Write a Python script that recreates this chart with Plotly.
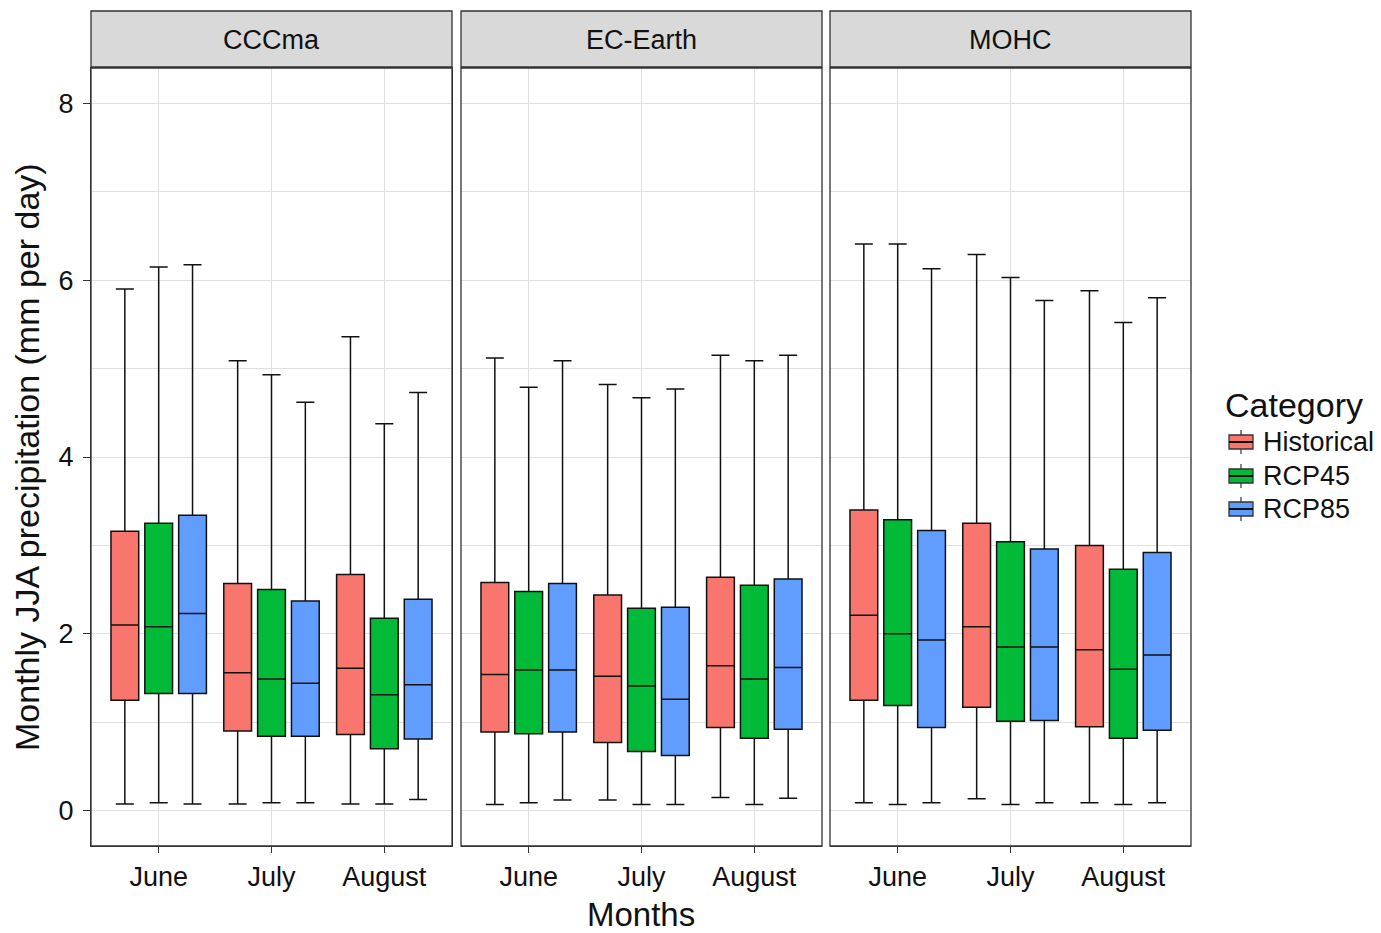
import plotly.graph_objects as go

months = ["June", "July", "August"]
models = ["CCCma", "EC-Earth", "MOHC"]
categories = ["Historical", "RCP45", "RCP85"]
colors = {"Historical": "#F8766D", "RCP45": "#00BA38", "RCP85": "#619CFF"}

# CCCma
cccma_hist_upper = [5.90, 5.09, 5.36]
cccma_hist_q3 = [3.16, 2.57, 2.67]
cccma_hist_med = [2.10, 1.56, 1.61]
cccma_hist_q1 = [1.25, 0.90, 0.86]
cccma_hist_lower = [0.075, 0.075, 0.075]

cccma_rcp45_upper = [6.15, 4.93, 4.375]
cccma_rcp45_q3 = [3.25, 2.50, 2.175]
cccma_rcp45_med = [2.08, 1.49, 1.31]
cccma_rcp45_q1 = [1.325, 0.84, 0.70]
cccma_rcp45_lower = [0.09, 0.09, 0.075]

cccma_rcp85_upper = [6.175, 4.62, 4.73]
cccma_rcp85_q3 = [3.34, 2.37, 2.39]
cccma_rcp85_med = [2.23, 1.44, 1.425]
cccma_rcp85_q1 = [1.325, 0.84, 0.81]
cccma_rcp85_lower = [0.075, 0.09, 0.125]

# EC-Earth
ec_hist_upper = [5.12, 4.82, 5.15]
ec_hist_q3 = [2.58, 2.44, 2.64]
ec_hist_med = [1.54, 1.52, 1.64]
ec_hist_q1 = [0.89, 0.77, 0.94]
ec_hist_lower = [0.07, 0.12, 0.15]

ec_rcp45_upper = [4.79, 4.67, 5.09]
ec_rcp45_q3 = [2.48, 2.29, 2.55]
ec_rcp45_med = [1.59, 1.41, 1.49]
ec_rcp45_q1 = [0.87, 0.67, 0.82]
ec_rcp45_lower = [0.09, 0.07, 0.07]

ec_rcp85_upper = [5.09, 4.77, 5.15]
ec_rcp85_q3 = [2.57, 2.30, 2.62]
ec_rcp85_med = [1.59, 1.26, 1.62]
ec_rcp85_q1 = [0.89, 0.625, 0.92]
ec_rcp85_lower = [0.12, 0.07, 0.14]

# MOHC
mohc_hist_upper = [6.41, 6.29, 5.88]
mohc_hist_q3 = [3.40, 3.25, 3.00]
mohc_hist_med = [2.21, 2.08, 1.82]
mohc_hist_q1 = [1.25, 1.17, 0.95]
mohc_hist_lower = [0.09, 0.135, 0.09]

mohc_rcp45_upper = [6.41, 6.03, 5.52]
mohc_rcp45_q3 = [3.29, 3.04, 2.73]
mohc_rcp45_med = [2.00, 1.85, 1.60]
mohc_rcp45_q1 = [1.19, 1.01, 0.82]
mohc_rcp45_lower = [0.07, 0.07, 0.07]

mohc_rcp85_upper = [6.13, 5.77, 5.80]
mohc_rcp85_q3 = [3.17, 2.96, 2.92]
mohc_rcp85_med = [1.93, 1.85, 1.76]
mohc_rcp85_q1 = [0.94, 1.02, 0.91]
mohc_rcp85_lower = [0.09, 0.09, 0.09]

stats = {
    "CCCma": {
        "Historical": (cccma_hist_lower, cccma_hist_q1, cccma_hist_med, cccma_hist_q3, cccma_hist_upper),
        "RCP45": (cccma_rcp45_lower, cccma_rcp45_q1, cccma_rcp45_med, cccma_rcp45_q3, cccma_rcp45_upper),
        "RCP85": (cccma_rcp85_lower, cccma_rcp85_q1, cccma_rcp85_med, cccma_rcp85_q3, cccma_rcp85_upper),
    },
    "EC-Earth": {
        "Historical": (ec_hist_lower, ec_hist_q1, ec_hist_med, ec_hist_q3, ec_hist_upper),
        "RCP45": (ec_rcp45_lower, ec_rcp45_q1, ec_rcp45_med, ec_rcp45_q3, ec_rcp45_upper),
        "RCP85": (ec_rcp85_lower, ec_rcp85_q1, ec_rcp85_med, ec_rcp85_q3, ec_rcp85_upper),
    },
    "MOHC": {
        "Historical": (mohc_hist_lower, mohc_hist_q1, mohc_hist_med, mohc_hist_q3, mohc_hist_upper),
        "RCP45": (mohc_rcp45_lower, mohc_rcp45_q1, mohc_rcp45_med, mohc_rcp45_q3, mohc_rcp45_upper),
        "RCP85": (mohc_rcp85_lower, mohc_rcp85_q1, mohc_rcp85_med, mohc_rcp85_q3, mohc_rcp85_upper),
    },
}

FONT = "Liberation Sans, Arial, sans-serif"
TXT = "#111111"
LBL = 27
TTL = 33

W, H = 1381, 933
ML, MR, MT, MB = 91, 190, 68, 87
pw = W - ML - MR
ph = H - MT - MB


def px_x(p):
    return (p - ML) / pw


def px_y(p):
    return (MT + ph - p) / ph


panel_px = [(91, 452), (461, 822), (830, 1191)]
domains = [[px_x(a), px_x(b)] for a, b in panel_px]

fig = go.Figure()

for i, model in enumerate(models):
    xa = "x" if i == 0 else f"x{i+1}"
    for cat in categories:
        lo, q1, med, q3, up = stats[model][cat]
        fig.add_trace(go.Box(
            x=months, q1=q1, median=med, q3=q3, lowerfence=lo, upperfence=up,
            name=cat, legendgroup=cat, showlegend=False,
            offsetgroup=cat, alignmentgroup=model,
            fillcolor=colors[cat], line=dict(color=TXT, width=1.5),
            whiskerwidth=0.65, boxpoints=False,
            xaxis=xa, yaxis="y",
        ))

layout = dict(
    width=W, height=H,
    margin=dict(l=ML, r=MR, t=MT, b=MB, pad=0, autoexpand=False),
    paper_bgcolor="white", plot_bgcolor="white",
    boxmode="group", boxgap=0.1, boxgroupgap=0.18,
    font=dict(family=FONT, color=TXT, size=LBL),
    showlegend=False,
)

for i in range(3):
    key = "xaxis" if i == 0 else f"xaxis{i+1}"
    layout[key] = dict(
        domain=domains[i], anchor="y", type="category",
        categoryorder="array", categoryarray=months,
        range=[-0.6, 2.6], showgrid=True, gridcolor="#E0E0E0", gridwidth=1.3,
        showline=True, mirror=True, linecolor="#333333", linewidth=1.3,
        ticks="outside", ticklen=6, tickcolor="#333333",
        tickfont=dict(size=LBL, family=FONT, color=TXT), zeroline=False,
    )
layout["yaxis"] = dict(
    domain=[0, 1], anchor="x", range=[-0.4, 8.4],
    tickvals=[0, 2, 4, 6, 8], ticktext=["0", "2", "4", "6", "8"],
    showgrid=True, gridcolor="#E0E0E0", gridwidth=1.3,
    minor=dict(tickvals=[1, 3, 5, 7], showgrid=True, gridcolor="#E0E0E0", gridwidth=1.3, ticks=""),
    showline=True, mirror=True, linecolor="#333333", linewidth=1.3,
    ticks="outside", ticklen=7, tickcolor="#333333", ticklabelstandoff=4,
    tickfont=dict(size=LBL, family=FONT, color=TXT), zeroline=False,
)
fig.update_layout(**layout)

shapes = []
annotations = []
strip_top = px_y(11)
strip_bot = px_y(67)
for i, (d0, d1) in enumerate(domains):
    shapes.append(dict(type="rect", xref="paper", yref="paper", x0=d0, x1=d1, y0=0, y1=1,
                       line=dict(color="#333333", width=1.3), fillcolor="rgba(0,0,0,0)", layer="above"))
    shapes.append(dict(type="rect", xref="paper", yref="paper", x0=d0, x1=d1, y0=strip_bot, y1=strip_top,
                       line=dict(color="#333333", width=1.3), fillcolor="#D9D9D9", layer="above"))
    annotations.append(dict(text=models[i], xref="paper", yref="paper", x=(d0 + d1) / 2,
                            y=px_y(40), showarrow=False,
                            font=dict(size=LBL, family=FONT, color=TXT), xanchor="center", yanchor="middle"))

annotations.append(dict(text="Months", xref="paper", yref="paper", x=px_x(641), y=px_y(914),
                        showarrow=False, font=dict(size=TTL, family=FONT, color=TXT),
                        xanchor="center", yanchor="middle"))
annotations.append(dict(text="Monthly JJA precipitation (mm per day)", xref="paper", yref="paper",
                        x=px_x(27), y=px_y(457), textangle=-90,
                        showarrow=False, font=dict(size=TTL + 1, family=FONT, color=TXT),
                        xanchor="center", yanchor="middle"))

# Legend (drawn manually to mimic ggplot key glyphs)
annotations.append(dict(text="Category", xref="paper", yref="paper", x=px_x(1223), y=px_y(405),
                        showarrow=False, font=dict(size=TTL + 1, family=FONT, color=TXT),
                        xanchor="left", yanchor="middle"))
legend_rows = [442, 476, 509]
for cat, ry in zip(categories, legend_rows):
    shapes.append(dict(type="line", xref="paper", yref="paper", x0=px_x(1241), x1=px_x(1241),
                       y0=px_y(ry - 12), y1=px_y(ry + 12), line=dict(color="#333333", width=1.2)))
    shapes.append(dict(type="rect", xref="paper", yref="paper", x0=px_x(1229), x1=px_x(1253),
                       y0=px_y(ry - 7), y1=px_y(ry + 7), fillcolor=colors[cat],
                       line=dict(color="#333333", width=1.3)))
    shapes.append(dict(type="line", xref="paper", yref="paper", x0=px_x(1229), x1=px_x(1253),
                       y0=px_y(ry), y1=px_y(ry), line=dict(color="#111111", width=2)))
    annotations.append(dict(text=cat, xref="paper", yref="paper", x=px_x(1261), y=px_y(ry),
                            showarrow=False, font=dict(size=LBL, family=FONT, color=TXT),
                            xanchor="left", yanchor="middle"))

fig.update_layout(shapes=shapes, annotations=annotations)

fig.write_html("out.html")
